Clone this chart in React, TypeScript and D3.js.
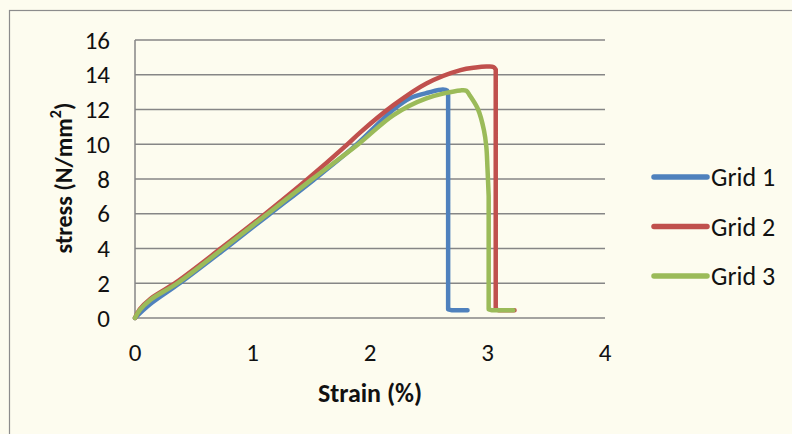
import * as d3 from 'd3';

// strain (%) / stress (N/mm²)
const grid1Strain = [0, 0.13, 0.38, 0.76, 1.14, 1.52, 1.88, 2.2, 2.34, 2.5, 2.62, 2.655, 2.665, 2.665, 2.7, 2.83];
const grid1Stress = [0, 0.8, 2.0, 3.95, 5.95, 7.95, 9.95, 12.0, 12.65, 12.98, 13.15, 13.1, 12.8, 0.5, 0.44, 0.44];

const grid2Strain = [0, 0.04, 0.13, 0.35, 0.74, 1.11, 1.47, 1.8, 1.92, 2.2, 2.48, 2.77, 2.9, 2.99, 3.05, 3.07, 3.07, 3.1, 3.23];
const grid2Stress = [0, 0.5, 1.1, 2.05, 4.05, 6.0, 8.0, 9.95, 10.7, 12.25, 13.5, 14.27, 14.42, 14.47, 14.45, 14.3, 0.5, 0.44, 0.44];

const grid3Strain = [0, 0.04, 0.13, 0.36, 0.75, 1.13, 1.5, 1.9, 2.2, 2.48, 2.77, 2.82, 2.85, 2.92, 2.97, 2.99, 3.0, 3.01, 3.01, 3.04, 3.22];
const grid3Stress = [0, 0.45, 1.04, 2.0, 4.0, 6.0, 7.95, 10.0, 11.68, 12.64, 13.1, 13.08, 12.8, 12.0, 10.8, 9.86, 8.6, 7.0, 0.5, 0.44, 0.44];

const seriesNames = ['Grid 1', 'Grid 2', 'Grid 3'];
const seriesColors = ['#4F81BD', '#C0504D', '#9BBB59'];
const xTicks = [0, 1, 2, 3, 4];
const yTicks = [0, 2, 4, 6, 8, 10, 12, 14, 16];

const W = 792, H = 434;
const font = "Carlito, Calibri, Lato, sans-serif";

type Pt = [number, number];

export default function App() {
  const x = d3.scaleLinear().domain([0, 4]).range([135, 605]);
  const y = d3.scaleLinear().domain([0, 16]).range([318, 40]);
  const smooth = d3.line<Pt>().x(d => x(d[0])).y(d => y(d[1])).curve(d3.curveCatmullRom.alpha(0.5));
  const straight = d3.line<Pt>().x(d => x(d[0])).y(d => y(d[1]));

  const series = [
    d3.zip(grid1Strain, grid1Stress),
    d3.zip(grid2Strain, grid2Stress),
    d3.zip(grid3Strain, grid3Stress),
  ] as Pt[][];

  // smooth loading curve up to the failure point, then the drop is straight
  const pathFor = (s: Pt[]) => {
    const k = s.findIndex((p, i) => i < s.length - 1 && s[i + 1][0] === p[0]);
    return (smooth(s.slice(0, k + 1)) ?? '') + (straight(s.slice(k)) ?? '');
  };

  return (
    <div style={{ position: 'fixed', left: 0, top: 0, width: W, height: H }}>
      <svg width={W} height={H} style={{ display: 'block' }} fontFamily={font}>
        <rect x={0} y={0} width={W} height={H} fill="#FDFCEF" />
        <rect x={9.5} y={10.5} width={W + 20} height={H + 20} fill="none" stroke="#8C8C8C" strokeWidth={1.2} />

        {yTicks.map(t => (
          <g key={t}>
            <line x1={x(0)} x2={x(4)} y1={y(t)} y2={y(t)} stroke="#868686" strokeWidth={1.5} />
            <text x={110} y={y(t)} textAnchor="end" dominantBaseline="central" fontSize={25} fill="#111">{t}</text>
          </g>
        ))}
        <line x1={x(0)} x2={x(0)} y1={y(0)} y2={y(16)} stroke="#868686" strokeWidth={1.5} />

        {xTicks.map(t => (
          <text key={t} x={x(t)} y={352} textAnchor="middle" dominantBaseline="central" fontSize={25} fill="#111">{t}</text>
        ))}

        {series.map((s, i) => (
          <path key={i} d={pathFor(s)} fill="none" stroke={seriesColors[i]} strokeWidth={4.5}
            strokeLinejoin="round" strokeLinecap="round" />
        ))}

        <text x={370} y={393} textAnchor="middle" dominantBaseline="central" fontSize={26} fontWeight="bold" fill="#111">Strain (%)</text>
        <text transform="translate(63,178) rotate(-90)" textAnchor="middle" dominantBaseline="central" fontSize={24} fontWeight="bold" fill="#111">
          stress (N/mm<tspan dy={-8} fontSize={16}>2</tspan><tspan dy={8}>)</tspan>
        </text>

        {seriesNames.map((n, i) => (
          <g key={n} transform={`translate(0,${177 + i * 49.5})`}>
            <line x1={654} x2={707} y1={0} y2={0} stroke={seriesColors[i]} strokeWidth={5.5} strokeLinecap="round" />
            <text x={711} y={0} dominantBaseline="central" fontSize={26} fill="#111">{n}</text>
          </g>
        ))}
      </svg>
    </div>
  );
}
